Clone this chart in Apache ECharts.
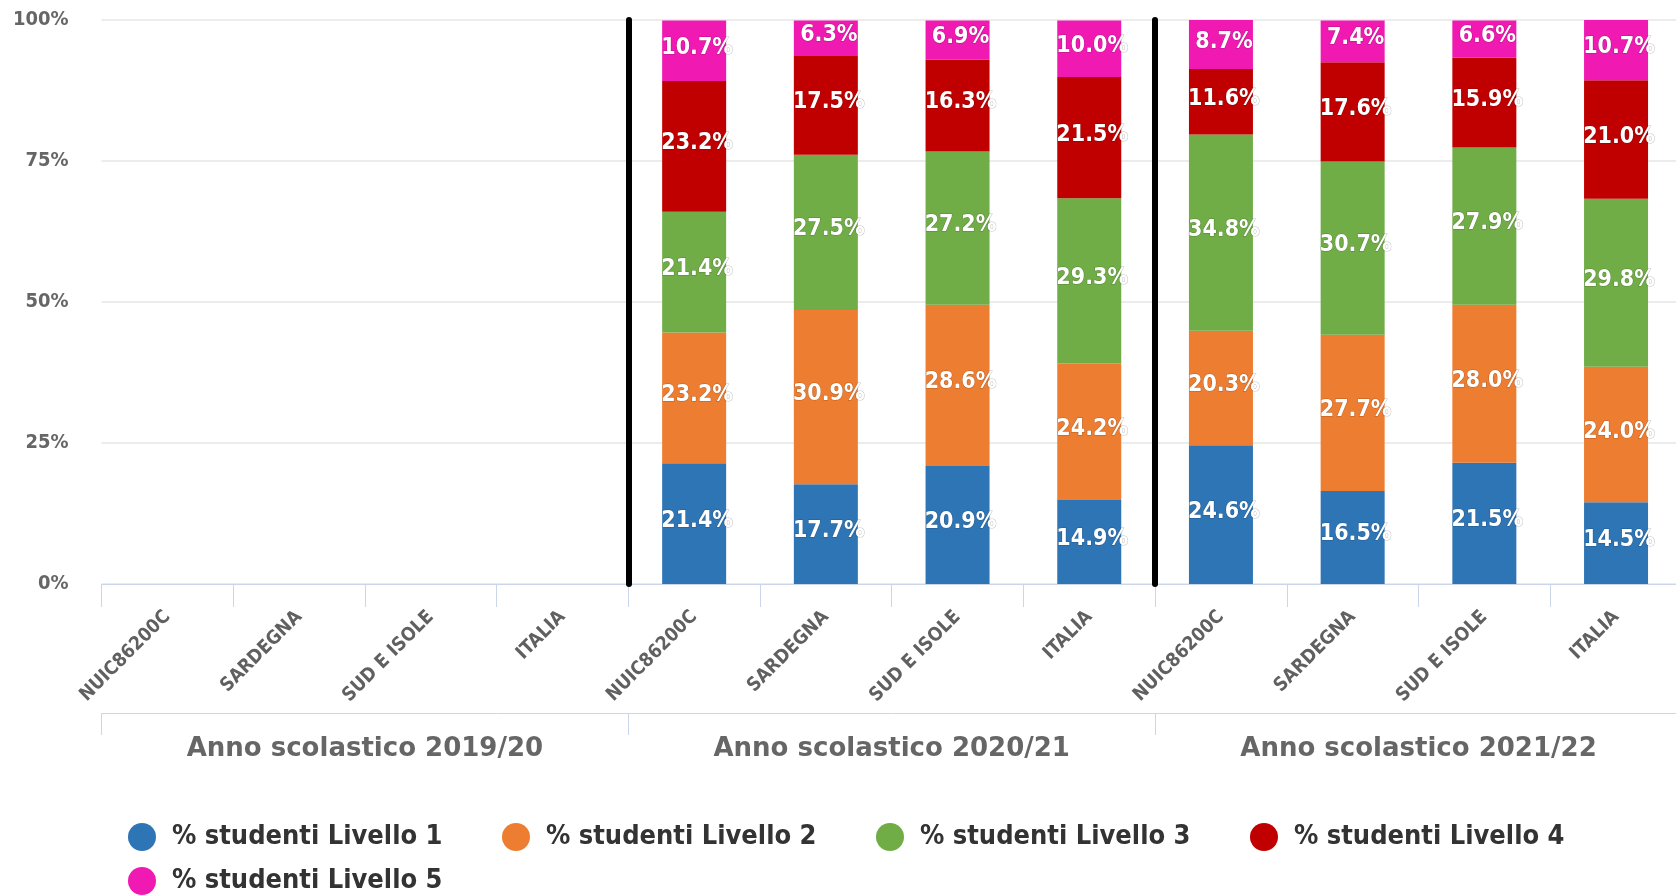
<!DOCTYPE html>
<html>
<head>
<meta charset="utf-8">
<script src="https://cdn.jsdelivr.net/npm/echarts@6/dist/echarts.min.js"></script>
<style>
html,body{margin:0;padding:0;background:#fff;overflow:hidden;width:1676px;height:895px;}
#chart{width:1690px;height:895px;}
</style>
</head>
<body>
<div id="chart"></div>
<script>
const xLabels = ['NUIC86200C','SARDEGNA','SUD E ISOLE','ITALIA','NUIC86200C','SARDEGNA','SUD E ISOLE','ITALIA','NUIC86200C','SARDEGNA','SUD E ISOLE','ITALIA'];
const groupLabels = ['Anno scolastico 2019/20','Anno scolastico 2020/21','Anno scolastico 2021/22'];
const seriesNames = ['% studenti Livello 1','% studenti Livello 2','% studenti Livello 3','% studenti Livello 4','% studenti Livello 5'];
const livello1 = [null,null,null,null,21.4,17.7,20.9,14.9,24.6,16.5,21.5,14.5];
const livello2 = [null,null,null,null,23.2,30.9,28.6,24.2,20.3,27.7,28.0,24.0];
const livello3 = [null,null,null,null,21.4,27.5,27.2,29.3,34.8,30.7,27.9,29.8];
const livello4 = [null,null,null,null,23.2,17.5,16.3,21.5,11.6,17.6,15.9,21.0];
const livello5 = [null,null,null,null,10.7,6.3,6.9,10.0,8.7,7.4,6.6,10.7];
const yTicks = [0,25,50,75,100];
const separators = [4, 8];
const colors = ['#2e75b6','#ed7d31','#70ad47','#c00000','#f01ab2'];

const COND = "'DejaVu Sans Condensed','DejaVu Sans',sans-serif";
const values = [livello1, livello2, livello3, livello4, livello5];

const chart = echarts.init(document.getElementById('chart'), null, {renderer:'canvas'});

const barSeries = values.map((arr, i) => ({
  name: seriesNames[i],
  type: 'bar',
  stack: 'tot',
  xAxisIndex: 0,
  yAxisIndex: 0,
  barWidth: 64,
  data: arr,
  itemStyle: { color: colors[i] },
  label: {
    show: true,
    position: 'inside',
    offset: [3, -3],
    formatter: p => (p.value == null ? '' : Number(p.value).toFixed(1) + '%'),
    color: '#fff',
    fontFamily: COND,
    fontWeight: 'bold',
    fontSize: 23,
    textBorderColor: 'rgba(0,0,0,0.25)',
    textBorderWidth: 1
  }
}));

barSeries.push({
  name: 'sep',
  type: 'line',
  xAxisIndex: 2,
  yAxisIndex: 0,
  data: [],
  silent: true,
  markLine: {
    silent: true,
    symbol: ['none','none'],
    label: { show: false },
    lineStyle: { color: '#000', width: 6, type: 'solid', cap: 'round' },
    data: separators.map(v => ({ xAxis: v }))
  }
});

chart.setOption({
  animation: false,
  color: colors,
  grid: { left: 101.5, top: 20, width: 1580.4, height: 564, containLabel: false },
  legend: {
    data: seriesNames,
    left: 123,
    top: 818,
    width: 1500,
    orient: 'horizontal',
    icon: 'circle',
    itemWidth: 28,
    itemHeight: 28,
    itemGap: 16,
    textStyle: {
      color: '#333',
      fontFamily: COND,
      fontWeight: 'bold',
      fontSize: 27,
      width: 314,
      lineHeight: 28,
      padding: [0,0,0,11]
    }
  },
  xAxis: [
    {
      type: 'category',
      gridIndex: 0,
      data: xLabels,
      position: 'bottom',
      boundaryGap: true,
      axisLine: { show: true, lineStyle: { color: '#ccd6eb', width: 1 } },
      axisTick: { show: true, interval: 0, length: 23, alignWithLabel: false, lineStyle: { color: '#ccd6eb' } },
      axisLabel: {
        interval: 0,
        rotate: 45,
        margin: 30,
        color: '#606060',
        fontFamily: COND,
        fontWeight: 'bold',
        fontSize: 19
      },
      splitLine: { show: false }
    },
    {
      type: 'category',
      gridIndex: 0,
      data: groupLabels,
      position: 'bottom',
      offset: 129,
      boundaryGap: true,
      axisLine: { show: true, lineStyle: { color: '#ccd6eb', width: 1 } },
      axisTick: { show: true, interval: 0, length: 22, lineStyle: { color: '#ccd6eb' } },
      axisLabel: {
        interval: 0,
        margin: 23,
        color: '#666',
        fontFamily: "'DejaVu Sans',sans-serif",
        fontWeight: 'bold',
        fontSize: 26
      },
      splitLine: { show: false }
    },
    {
      type: 'value',
      gridIndex: 0,
      min: 0,
      max: 12,
      show: false,
      splitLine: { show: false }
    }
  ],
  yAxis: {
    type: 'value',
    min: 0,
    max: 100,
    interval: 25,
    axisLine: { show: false },
    axisTick: { show: false },
    splitLine: { show: true, lineStyle: { color: '#e6e6e6', width: 1.5 } },
    axisLabel: {
      margin: 33,
      color: '#666',
      fontFamily: COND,
      fontWeight: 'bold',
      fontSize: 20,
      formatter: v => (yTicks.indexOf(v) >= 0 ? v + '%' : '')
    }
  },
  series: barSeries
});
</script>
</body>
</html>
